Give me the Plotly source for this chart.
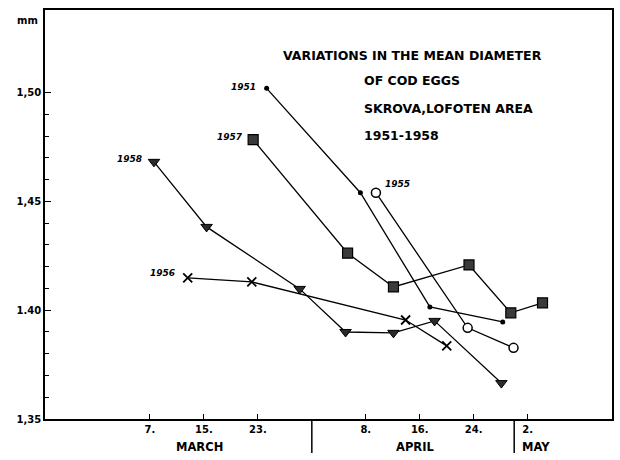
import plotly.graph_objects as go

# x = day counted from 28 February (March d -> d, April d -> 31+d, May d -> 61+d)
x_1951 = [24.3, 38.2, 48.5, 59.3]
y_1951 = [1.502, 1.454, 1.4015, 1.3946]

x_1957 = [22.3, 36.3, 43.1, 54.3, 60.5, 65.2]
y_1957 = [1.4784, 1.4262, 1.4107, 1.4208, 1.3988, 1.4034]

x_1958 = [7.6, 15.4, 29.2, 36.0, 43.1, 49.2, 59.1]
y_1958 = [1.4682, 1.4383, 1.4098, 1.3900, 1.3896, 1.3951, 1.3665]

x_1956 = [12.6, 22.1, 44.9, 51.0]
y_1956 = [1.4149, 1.4130, 1.3955, 1.3836]

x_1955 = [40.5, 54.1, 60.9]
y_1955 = [1.4540, 1.3919, 1.3827]

x_tick_vals = [7, 15, 23, 39, 47, 55, 63]
x_tick_text = ["7.", "15.", "23.", "8.", "16.", "24.", "2."]
y_tick_vals = [1.35, 1.40, 1.45, 1.50]
y_tick_text = ["1,35", "1.40", "1,45", "1,50"]
y_minor_vals = [1.36, 1.37, 1.38, 1.39, 1.41, 1.42, 1.43, 1.44,
                1.46, 1.47, 1.48, 1.49]
month_names = ["MARCH", "APRIL", "MAY"]
month_centers = [14.4, 46.3, 64.3]
month_breaks = [31, 61]

title_lines = ["VARIATIONS IN THE MEAN DIAMETER", "OF COD EGGS",
               "SKROVA,LOFOTEN AREA", "1951-1958"]

W, H = 620, 460
L, R, T, B = 45, 8, 10, 41
PW, PH = W - L - R, H - T - B


def px(x):
    return (x - L) / PW


def py(y):
    return (H - B - y) / PH


FONT = "DejaVu Sans"
fig = go.Figure()

line_style = dict(color="black", width=1.3)
fig.add_trace(go.Scatter(x=x_1951, y=y_1951, mode="lines+markers", line=line_style,
                         marker=dict(symbol="circle", size=5, color="black")))
fig.add_trace(go.Scatter(x=x_1957, y=y_1957, mode="lines+markers", line=line_style,
                         marker=dict(symbol="square", size=10, color="#3a3a3a",
                                     line=dict(color="black", width=1.2))))
fig.add_trace(go.Scatter(x=x_1958, y=y_1958, mode="lines+markers", line=line_style,
                         marker=dict(symbol="triangle-down", size=10, color="#2a2a2a",
                                     line=dict(color="black", width=1))))
fig.add_trace(go.Scatter(x=x_1956, y=y_1956, mode="lines+markers", line=line_style,
                         marker=dict(symbol="x-thin", size=9,
                                     line=dict(color="black", width=1.8))))
fig.add_trace(go.Scatter(x=x_1955, y=y_1955, mode="lines+markers", line=line_style,
                         marker=dict(symbol="circle", size=9, color="white",
                                     line=dict(color="black", width=1.5))))

ann = []
series_labels = [("1951", 258, 87, "right"), ("1957", 245, 137, "right"),
                 ("1958", 144, 159, "right"), ("1956", 177, 273, "right"),
                 ("1955", 383, 184, "left")]
for txt, xx, yy, al in series_labels:
    ann.append(dict(text="<b><i>%s</i></b>" % txt, x=px(xx), y=py(yy), xref="paper",
                    yref="paper", xanchor=al, yanchor="middle", showarrow=False,
                    font=dict(family=FONT, size=9, color="black")))
title_pos = [(281, 55), (362, 81), (362, 108), (362, 135)]
for txt, (xx, yy) in zip(title_lines, title_pos):
    ann.append(dict(text="<b>%s</b>" % txt, x=px(xx), y=py(yy), xref="paper",
                    yref="paper", xanchor="left", yanchor="middle", showarrow=False,
                    font=dict(family=FONT, size=12.5, color="black")))
ann.append(dict(text="<b>mm</b>", x=px(40), y=py(20), xref="paper", yref="paper",
                xanchor="right", yanchor="middle", showarrow=False,
                font=dict(family=FONT, size=10, color="black")))
for name, c in zip(month_names, month_centers):
    ann.append(dict(text="<b>%s</b>" % name, x=c, y=py(447), xref="x", yref="paper",
                    xanchor="center", yanchor="middle", showarrow=False,
                    font=dict(family=FONT, size=11.5, color="black")))

shapes = []
for b in month_breaks:
    shapes.append(dict(type="line", x0=b, x1=b, xref="x", y0=0, y1=py(453),
                       yref="paper", line=dict(color="black", width=1.5)))

fig.update_layout(
    width=W, height=H, margin=dict(l=L, r=R, t=T, b=B, autoexpand=False),
    paper_bgcolor="white", plot_bgcolor="white", showlegend=False,
    annotations=ann, shapes=shapes,
    font=dict(family=FONT, color="black"),
)
fig.update_xaxes(range=[-8.556, 75.5], showgrid=False, zeroline=False, automargin=False,
                 showline=True, linecolor="black", linewidth=1.5, mirror=True,
                 tickmode="array", tickvals=x_tick_vals,
                 ticktext=["<b>%s</b>" % t for t in x_tick_text],
                 ticks="inside", ticklen=5, tickcolor="black", tickwidth=1.2,
                 tickfont=dict(family=FONT, size=10, color="black"))
fig.update_yaxes(range=[1.35, 1.538], showgrid=False, zeroline=False, automargin=False,
                 showline=True, linecolor="black", linewidth=1.5, mirror=True,
                 tickmode="array", tickvals=y_tick_vals,
                 ticktext=["<b>%s</b>" % t for t in y_tick_text],
                 ticks="inside", ticklen=6, tickcolor="black", tickwidth=1.2,
                 tickfont=dict(family=FONT, size=10, color="black"),
                 minor=dict(tickmode="array", tickvals=y_minor_vals, ticks="inside",
                            ticklen=4, tickcolor="black", tickwidth=1, showgrid=False))

fig.write_html("out.html", config={"displayModeBar": False},
               post_script="document.body.style.margin='0';document.body.style.padding='0';")
